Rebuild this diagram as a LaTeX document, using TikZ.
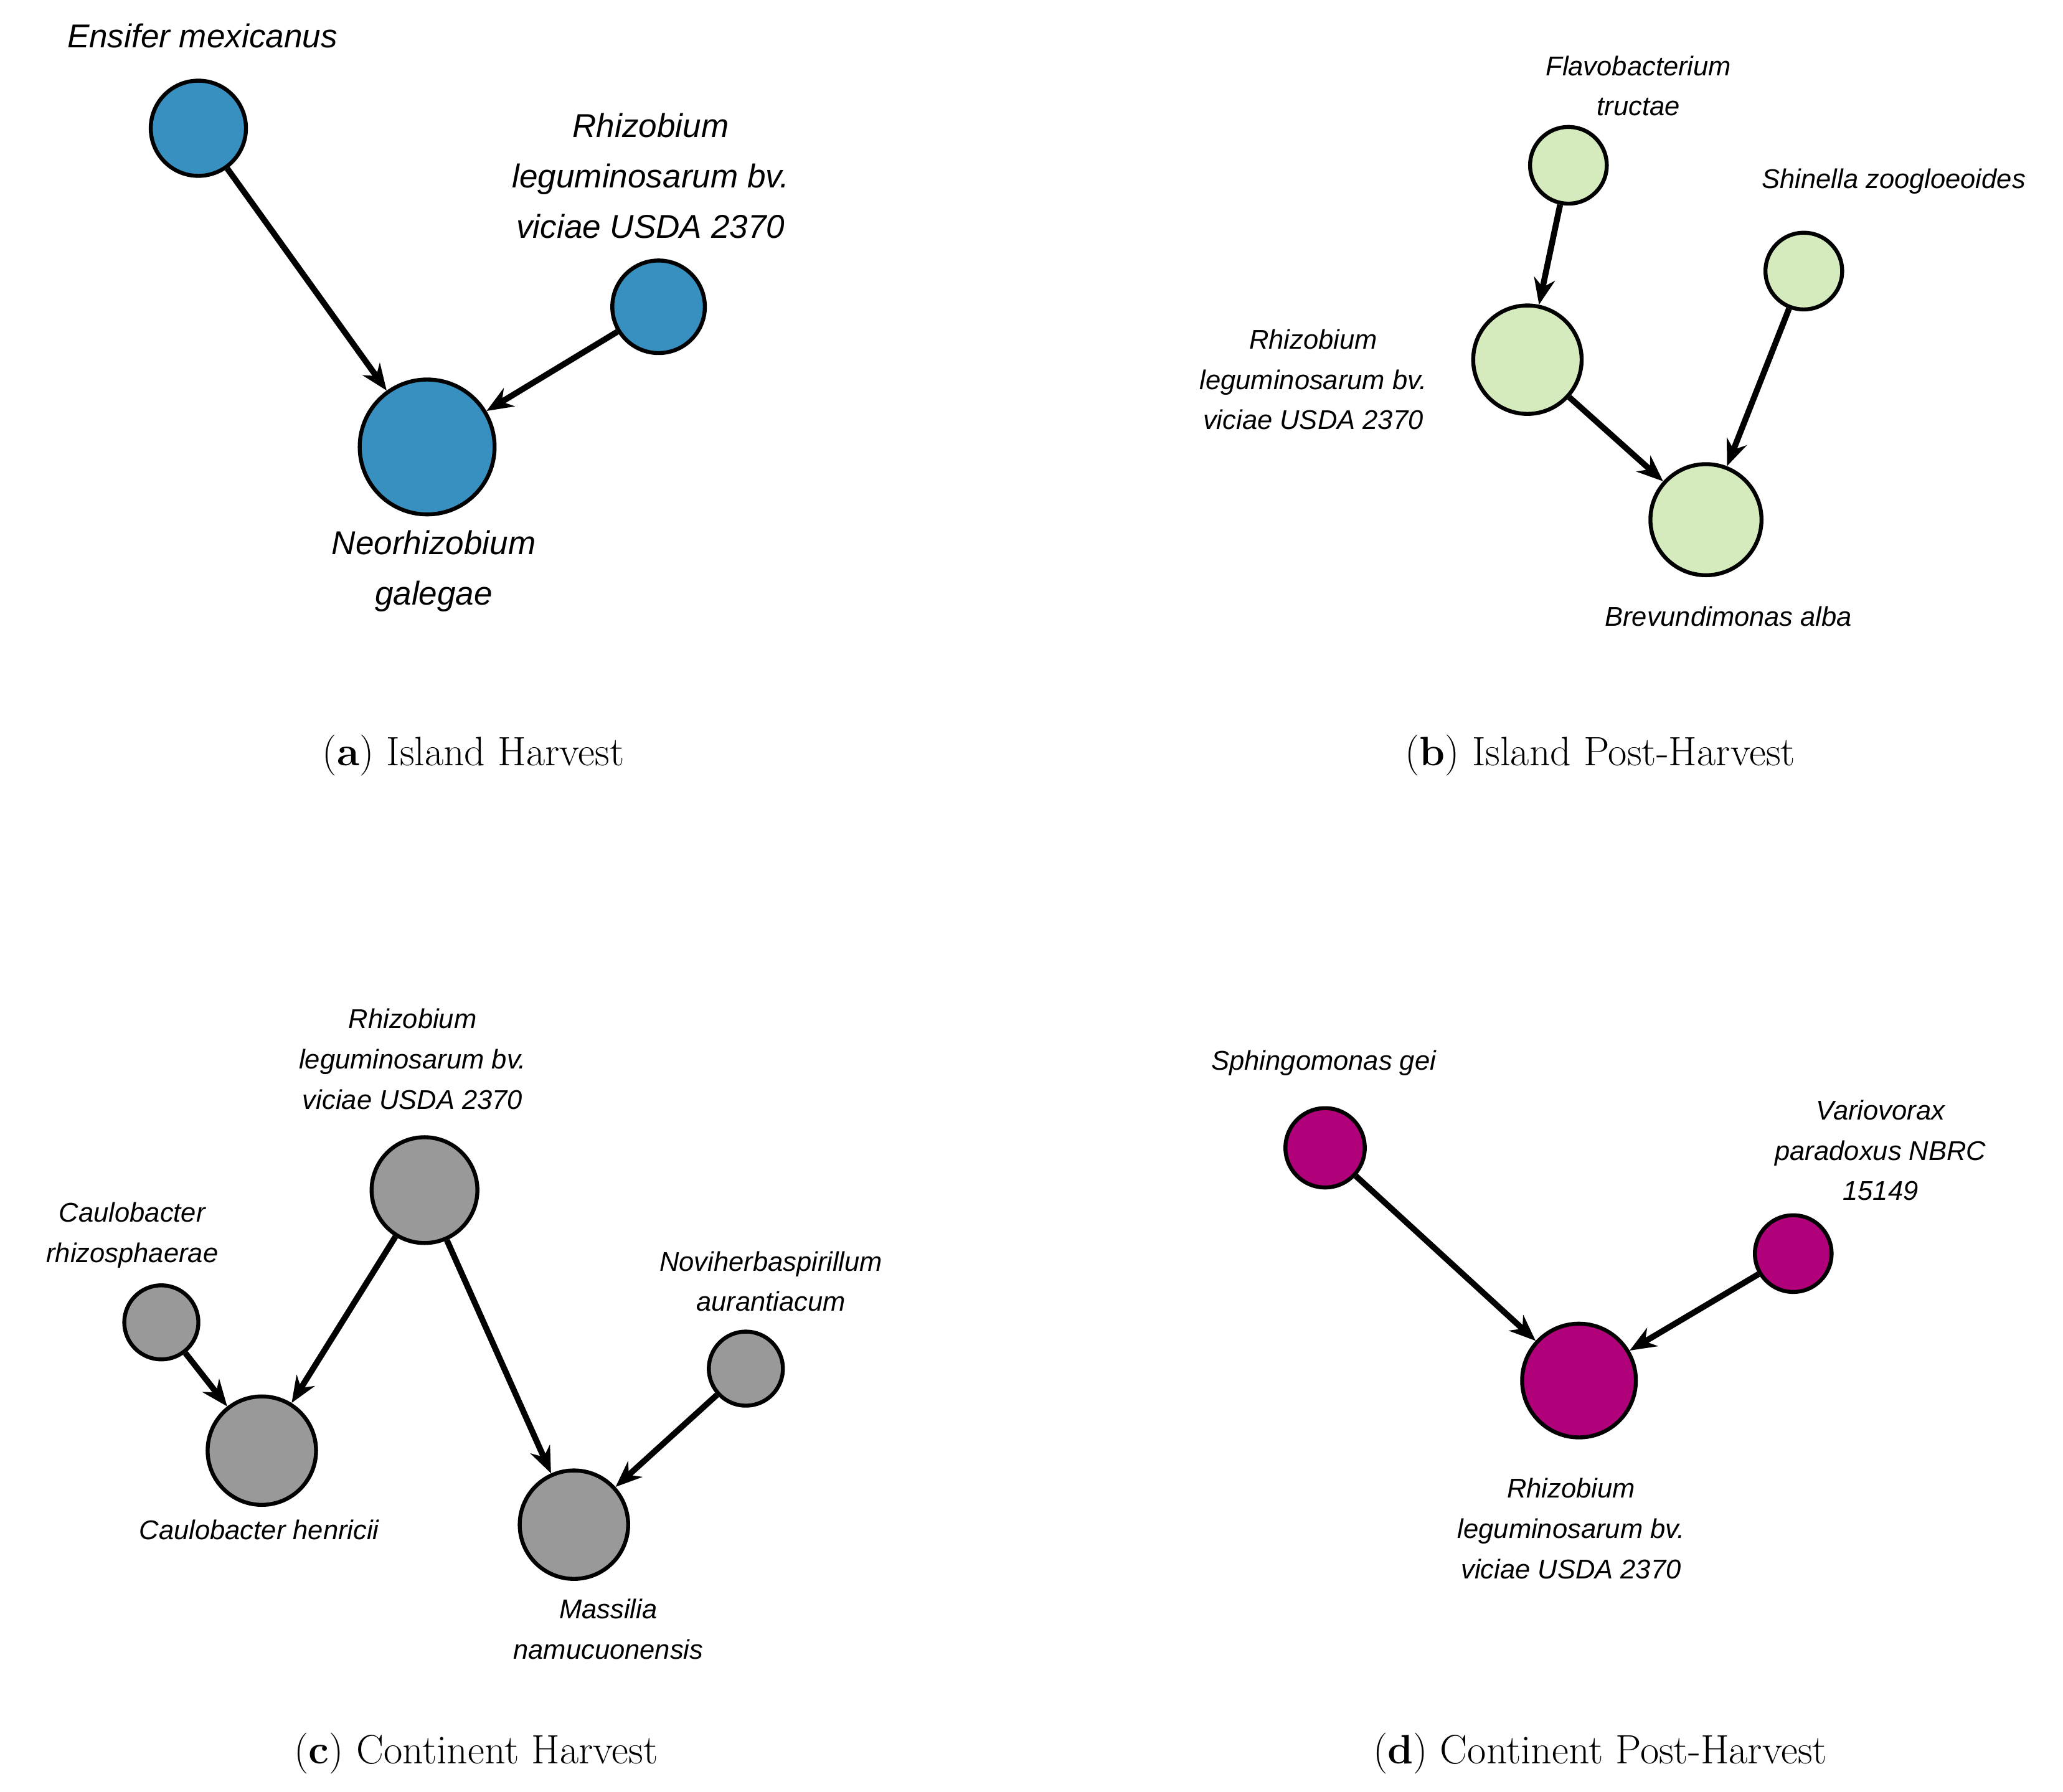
\documentclass[tikz,border=0pt]{standalone}
\usepackage{fontspec}
\setsansfont{Liberation Sans}
\usetikzlibrary{arrows.meta}
\definecolor{cblue}{HTML}{3790C0}
\definecolor{cgreen}{HTML}{D5EBBD}
\definecolor{cgray}{HTML}{999999}
\definecolor{cmag}{HTML}{B0007A}
\tikzset{
 nd/.style={circle,draw=black,line width=3pt,inner sep=0pt,minimum size=#1},
 lbA/.style={font=\sffamily\itshape\fontsize{25}{38}\selectfont,align=center},
 lbB/.style={font=\sffamily\itshape\fontsize{20.5}{30.5}\selectfont,align=center},
 captxt/.style={font=\fontsize{31}{36}\selectfont},
 ar/.style={line width=4.5pt,-{Stealth[length=20pt,width=16pt]}},
}
\begin{document}
\begin{tikzpicture}[x=1pt,y=-1pt]
\useasboundingbox (0,0) rectangle (1560,1355);
% (a)
\node[nd=72pt,fill=cblue] (a1) at (150,97) {};
\node[nd=70pt,fill=cblue] (a2) at (498,232) {};
\node[nd=102pt,fill=cblue] (a3) at (323,338) {};
\draw[ar] (a1) -- (a3);
\draw[ar] (a2) -- (a3);
\node[lbA] (la1) at (153,27) {Ensifer mexicanus};
\node[lbA] (la2) at (492,133) {Rhizobium\\leguminosarum bv.\\viciae USDA 2370};
\node[lbA] (la3) at (328,432) {Neorhizobium\\galegae};
\node[captxt] (ca) at (358,571) {(\textbf{a}) Island Harvest};
% (b)
\node[nd=58pt,fill=cgreen] (b1) at (1186,125) {};
\node[nd=58pt,fill=cgreen] (b2) at (1364,205) {};
\node[nd=82pt,fill=cgreen] (b3) at (1155,272) {};
\node[nd=84pt,fill=cgreen] (b4) at (1290,393) {};
\draw[ar] (b1) -- (b3);
\draw[ar] (b2) -- (b4);
\draw[ar] (b3) -- (b4);
\node[lbB] (lb1) at (1239,65) {Flavobacterium\\tructae};
\node[lbB] (lb2) at (1432,137) {Shinella zoogloeoides};
\node[lbB] (lb3) at (993,287) {Rhizobium\\leguminosarum bv.\\viciae USDA 2370};
\node[lbB] (lb4) at (1307,466) {Brevundimonas alba};
\node[captxt] (cb) at (1210,571) {(\textbf{b}) Island Post-Harvest};
% (c)
\node[nd=80pt,fill=cgray] (c1) at (321,900) {};
\node[nd=56pt,fill=cgray] (c2) at (122,1000) {};
\node[nd=82pt,fill=cgray] (c3) at (198,1097) {};
\node[nd=56pt,fill=cgray] (c4) at (564,1035) {};
\node[nd=82pt,fill=cgray] (c5) at (434,1153) {};
\draw[ar] (c1) -- (c3);
\draw[ar] (c2) -- (c3);
\draw[ar] (c1) -- (c5);
\draw[ar] (c4) -- (c5);
\node[lbB] (lc1) at (312,801) {Rhizobium\\leguminosarum bv.\\viciae USDA 2370};
\node[lbB] (lc2) at (100,934) {Caulobacter\\rhizosphaerae};
\node[lbB] (lc4) at (583,969) {Noviherbaspirillum\\aurantiacum};
\node[lbB] (lc3) at (196,1157) {Caulobacter henricii};
\node[lbB] (lc5) at (460,1232) {Massilia\\namucuonensis};
\node[captxt] (cc) at (360,1326) {(\textbf{c}) Continent Harvest};
% (d)
\node[nd=60pt,fill=cmag] (d1) at (1002,868) {};
\node[nd=58pt,fill=cmag] (d2) at (1356,948) {};
\node[nd=86pt,fill=cmag] (d3) at (1194,1044) {};
\draw[ar] (d1) -- (d3);
\draw[ar] (d2) -- (d3);
\node[lbB] (ld1) at (1001,804) {Sphingomonas gei};
\node[lbB] (ld2) at (1422,870) {Variovorax\\paradoxus NBRC\\15149};
\node[lbB] (ld3) at (1188,1156) {Rhizobium\\leguminosarum bv.\\viciae USDA 2370};
\node[captxt] (cd) at (1210,1326) {(\textbf{d}) Continent Post-Harvest};
\end{tikzpicture}
\end{document}
